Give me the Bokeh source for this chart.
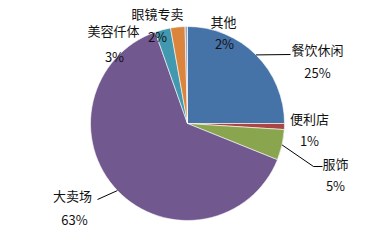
import math
from bokeh.plotting import figure
from bokeh.models import Range1d, ColumnDataSource
from bokeh.core.properties import value
from bokeh.embed import file_html
from bokeh.resources import INLINE

# ---- data ----
categories = ["餐饮休闲", "便利店", "服饰", "大卖场", "美容仟体", "眼镜专卖", "其他"]
shares = [25.0, 1.0, 5.1, 63.5, 2.6, 2.4, 0.4]
pct_labels = ["25%", "1%", "5%", "63%", "3%", "2%", "2%"]
colors = ["#4572A7", "#AA4643", "#89A54E", "#71588F", "#4198AF", "#DB843D", "#93A9CF"]

# ---- layout (not data) ----
W, H = 385, 240
CX, CY, R = 187, 117, 97
FONT = "Noto Sans CJK SC"
# label anchor (name, pct) positions
label_pos = [((317, 191), (317, 168)),
             ((309, 122), (309, 100)),
             ((335, 77), (335, 55)),
             ((72, 45), (74, 21)),
             ((113, 210), (114, 184)),
             ((157, 227), (157, 204)),
             ((223, 219), (224, 197))]
leader_ends = {0: [(290, 186)], 2: [(313, 74), (322, 74)], 3: [(97, 41)]}

p = figure(width=W, height=H, output_backend="svg", toolbar_location=None,
           x_range=Range1d(0, W), y_range=Range1d(0, H), min_border=0)
p.axis.visible = False
p.grid.visible = False
p.outline_line_color = None
p.background_fill_color = "white"

total = sum(shares)
starts, ends, mids = [], [], []
cum = 0.0
for s in shares:
    a0 = math.pi / 2 - 2 * math.pi * cum / total
    cum += s
    a1 = math.pi / 2 - 2 * math.pi * cum / total
    starts.append(a0)
    ends.append(a1)
    mids.append((a0 + a1) / 2)

src = ColumnDataSource(dict(start=starts, end=ends, color=colors, cat=categories))
p.wedge(x=CX, y=CY, radius=R, start_angle="start", end_angle="end",
        direction="clock", fill_color="color", line_color="white",
        line_width=0.6, source=src)

# leader lines
for i, pts in leader_ends.items():
    ex = CX + R * math.cos(mids[i])
    ey = CY + R * math.sin(mids[i])
    xs = [ex] + [q[0] for q in pts]
    ys = [ey] + [q[1] for q in pts]
    p.line(xs, ys, line_color="black", line_width=1)

nx = [lp[0][0] for lp in label_pos]
ny = [lp[0][1] for lp in label_pos]
px = [lp[1][0] for lp in label_pos]
py = [lp[1][1] for lp in label_pos]
p.text(x=nx, y=ny, text=categories, text_font=value(FONT), text_font_size="13px",
       text_align="center", text_baseline="middle", text_color="#111111")
p.text(x=px, y=py, text=pct_labels, text_font=value(FONT), text_font_size="13px",
       text_align="center", text_baseline="middle", text_color="#111111")

open("out.html", "w").write(file_html(p, INLINE))
